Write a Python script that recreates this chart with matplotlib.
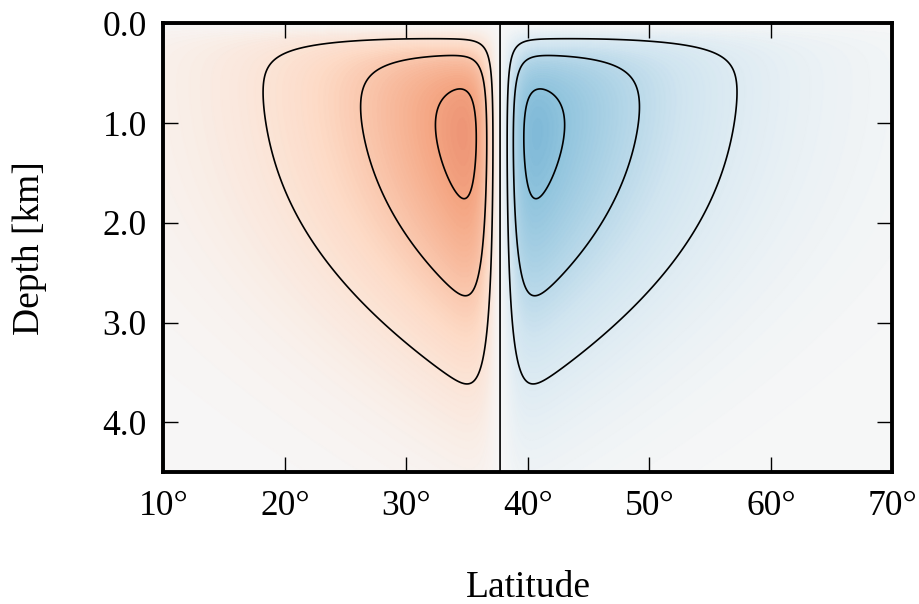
import numpy as np
import matplotlib
matplotlib.use("Agg")
import matplotlib.pyplot as plt

# ---- axes, ticks, labels -------------------------------------------------
lat_range = (10.0, 70.0)
depth_range = (0.0, 4.5)
lat_ticks = [10, 20, 30, 40, 50, 60, 70]
lat_tick_labels = ["10°", "20°", "30°", "40°", "50°", "60°", "70°"]
depth_ticks = [0.0, 1.0, 2.0, 3.0, 4.0]
depth_tick_labels = ["0.0", "1.0", "2.0", "3.0", "4.0"]
x_label = "Latitude"
y_label = "Depth [km]"

# ---- overturning-cell parameters (fitted to the contours in the picture) --
zero_lat = 37.7           # latitude of the zero streamline
wall_width = 1.291        # width of the rise next to the zero line [deg]
wall_power = 1.486
decay_lin = 0.04754       # lateral decay away from the zero line [1/deg]
decay_quad = 0.00131      # [1/deg^2]
surf_far = 0.0984         # surface layer thickness far from the wall [km]
surf_extra = 0.2539       # extra surface thickness at the wall [km]
surf_len = 10.26          # lateral scale of that change [deg]
surf_power = 1.484
deep_scale = 3.405        # deep decay depth [km]
deep_trend = -0.00809     # change of deep scale with distance [1/deg]
deep_power = 2.841
cell_peak = 0.7703        # raw peak of the cell shape (normalised to 1 below)
contour_levels = [-0.913, -0.609, -0.304, 0.0, 0.304, 0.609, 0.913]
color_limit = 2.27        # colour scale half-range

# ---- build field -----------------------------------------------------------
lat = np.linspace(lat_range[0], lat_range[1], 1200)
depth = np.linspace(depth_range[0], depth_range[1], 451)
LAT, Z = np.meshgrid(lat, depth)
D = np.abs(LAT - zero_lat)
S = -np.sign(LAT - zero_lat)

lateral = (1 - np.exp(-(D / wall_width) ** wall_power)) * np.exp(-decay_lin * D - decay_quad * D ** 2)
delta = surf_far + surf_extra * np.exp(-D / surf_len)
H = deep_scale * np.exp(deep_trend * D)
vert = (1 - np.exp(-Z / delta)) ** surf_power * np.exp(-(Z / H) ** deep_power)
psi = S * lateral * vert / cell_peak

# ---- plot ------------------------------------------------------------------
plt.rcParams["font.family"] = ["Liberation Serif", "DejaVu Serif"]
plt.rcParams["contour.negative_linestyle"] = "solid"

fig = plt.figure(figsize=(9.2, 6.04), dpi=100)
ax = fig.add_axes([0.1777, 0.2185, 0.7924, 0.7426])

ax.pcolormesh(lat, depth, psi, cmap="RdBu_r", vmin=-color_limit, vmax=color_limit,
              shading="gouraud", rasterized=True)
ax.contour(lat, depth, psi, levels=contour_levels, colors="k", linewidths=1.2,
           linestyles="solid")

ax.set_xlim(*lat_range)
ax.set_ylim(depth_range[1], depth_range[0])
ax.set_xticks(lat_ticks)
ax.set_xticklabels(lat_tick_labels)
ax.set_yticks(depth_ticks)
ax.set_yticklabels(depth_tick_labels)

ax.tick_params(axis="both", which="major", direction="in", length=10.5, width=1.0,
               top=True, right=True, labelsize=25.5, color="k")
ax.tick_params(axis="x", pad=13)
ax.tick_params(axis="y", pad=12)
for sp in ax.spines.values():
    sp.set_linewidth(2.8)

ax.set_xlabel(x_label, fontsize=27, labelpad=34)
ax.set_ylabel(y_label, fontsize=27, labelpad=40)

fig.savefig("out.png", dpi=100)
